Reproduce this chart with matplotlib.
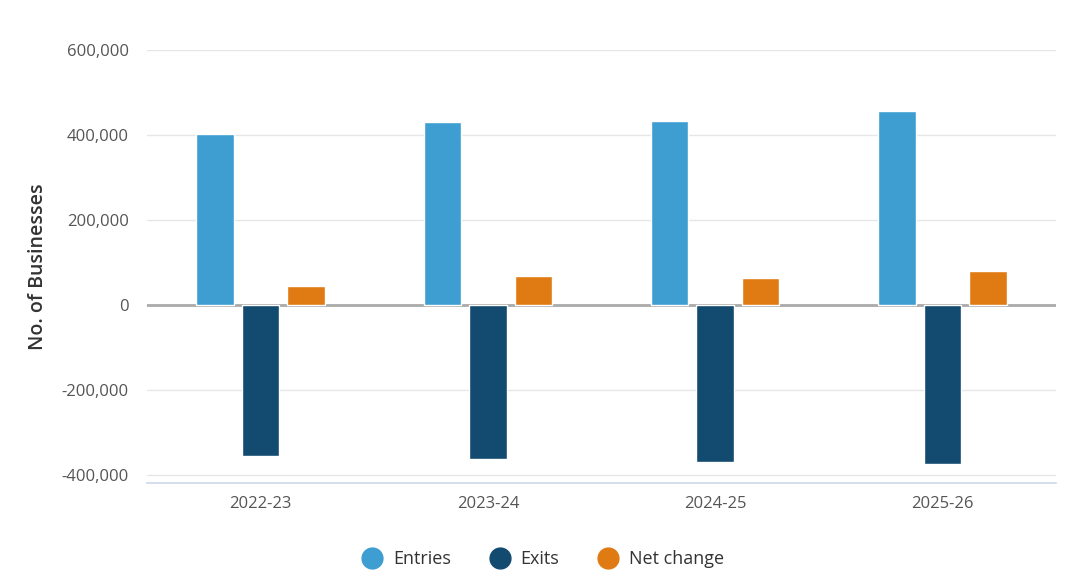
import matplotlib.pyplot as plt
import matplotlib.ticker as mticker
from matplotlib.lines import Line2D
import numpy as np

plt.rcParams['font.family'] = ['Open Sans', 'DejaVu Sans']

# data
years = ['2022-23', '2023-24', '2024-25', '2025-26']
entries = [402000, 430000, 433000, 456500]
exits = [-354500, -363000, -369500, -375000]
net_change = [44700, 68200, 62800, 80000]

series = [('Entries', entries, '#3e9dd1'),
          ('Exits', exits, '#134a70'),
          ('Net change', net_change, '#e07b14')]

fig = plt.figure(figsize=(10.78, 5.83), dpi=100)
ax = fig.add_axes([0.1364, 0.1715, 0.8432, 0.7427])

x = np.arange(len(years))
width = 0.165
offsets = [-0.2, 0.0, 0.2]
for (name, vals, col), off in zip(series, offsets):
    ax.bar(x + off, vals, width, color=col, edgecolor='white', linewidth=1, zorder=3)

ax.axhline(0, color='#aaaaaa', linewidth=2, zorder=2)
ax.set_xlim(-0.5, len(years) - 0.5)
ax.set_ylim(-419000, 600000)
ax.set_yticks([-400000, -200000, 0, 200000, 400000, 600000])
ax.yaxis.set_major_formatter(mticker.FuncFormatter(lambda v, p: f'{int(v):,}'))
ax.set_xticks(x)
ax.set_xticklabels(years)
ax.grid(axis='y', color='#e6e6e6', linewidth=1, zorder=0)
ax.set_axisbelow(True)

for s in ['top', 'right', 'left']:
    ax.spines[s].set_visible(False)
ax.spines['bottom'].set_color('#ccd6eb')
ax.spines['bottom'].set_linewidth(1.2)
ax.tick_params(axis='both', length=0, labelsize=12, labelcolor='#555555')
ax.tick_params(axis='y', pad=13)
ax.tick_params(axis='x', pad=9)

ax.set_ylabel('No. of Businesses', fontsize=14, color='#333333', fontweight='semibold', labelpad=10)

handles = [Line2D([0], [0], marker='o', linestyle='', markersize=15, markerfacecolor=c,
                  markeredgecolor=c, label=n) for n, _, c in series]
leg = fig.legend(handles=handles, loc='lower center', bbox_to_anchor=(0.5, -0.003), ncol=3,
                 frameon=False, handletextpad=0.15, columnspacing=1.7,
                 prop={'weight': 'medium', 'size': 13})
for t in leg.get_texts():
    t.set_color('#333333')

fig.savefig('out.png', dpi=100)
